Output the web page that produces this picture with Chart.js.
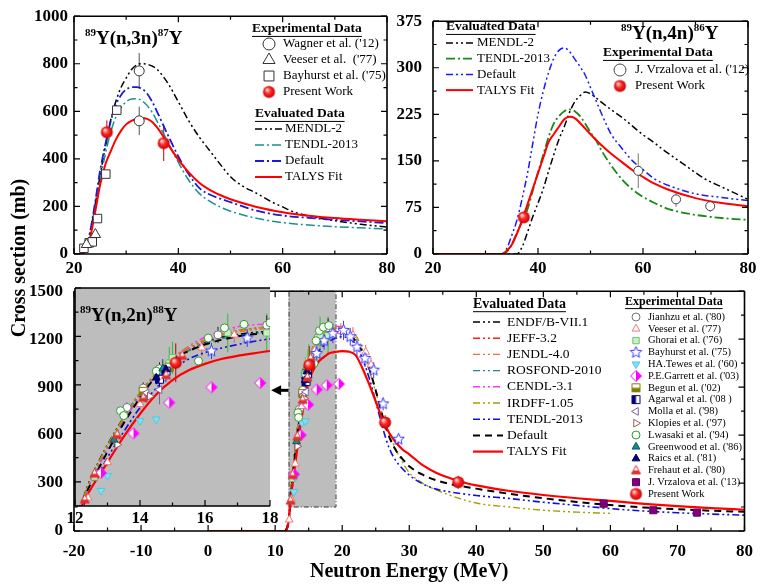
<!DOCTYPE html>
<html>
<head>
<meta charset="utf-8">
<script src="https://cdn.jsdelivr.net/npm/chart.js@4"></script>
<style>
body { margin: 0; background: #fff; }
#fig { position: relative; width: 763px; height: 584px; overflow: hidden; background: #fff; }
#fig canvas { position: absolute; }
#ytitle { position: absolute; left: -81px; top: 246px; width: 200px; height: 24px; line-height: 24px;
  text-align: center; font: bold 20px 'Liberation Serif', 'Times New Roman', serif; transform: rotate(-90deg); }
</style>
</head>
<body>
<div id="fig">
  <canvas id="n3n" width="400" height="290" style="left:0;top:0"></canvas>
  <canvas id="n4n" width="373" height="290" style="left:390px;top:0"></canvas>
  <canvas id="n2n" width="763" height="314" style="left:0;top:270px"></canvas>
  <canvas id="zoom" width="230" height="250" style="left:60px;top:278px"></canvas>
  <div id="ytitle">Cross section (mb)</div>
</div>
<script>
const FONT = "'Liberation Serif', 'Times New Roman', serif";

// axes: [min, max, tick step, label step]
const N3_X = [20, 80, 10, 20], N3_Y = [0, 1000, 100, 200];
const N4_X = [20, 80, 10, 20], N4_Y = [0, 375, 37.5, 75];
const N2_X = [-20, 80, 5, 10], N2_Y = [0, 1500, 150, 300];
const ZOOM_X = [12, 18, 1, 2], ZOOM_Y = [150, 1500, 150, 300];
const ZOOM_BOX = [12, 19, 150, 1500];
const ZOOM_ARROW = [12, 9.4, 880];

// ---- 89Y(n,3n)87Y ----
const A_MENDL_E = [20, 21.5, 22, 23, 24, 25, 26, 27, 28, 29, 30, 31, 32, 33, 34, 35, 36, 38, 40, 42, 44, 46, 48, 50, 52, 55, 58, 60, 62, 65, 70, 75, 80];
const A_MENDL = [0, 0, 10, 80, 200, 330, 450, 560, 640, 700, 740, 775, 795, 800, 798, 790, 775, 718, 640, 560, 492, 435, 378, 325, 290, 255, 218, 198, 178, 160, 140, 125, 113];
const A_EVAL_E = [20, 21.5, 22, 23, 24, 25, 26, 27, 28, 29, 30, 31, 32, 33, 34, 35, 36, 38, 40, 42, 44, 46, 48, 50, 55, 60, 65, 70, 75, 80];
const A_TENDL = [0, 0, 10, 70, 180, 310, 420, 510, 575, 615, 640, 652, 653, 645, 625, 595, 555, 470, 385, 310, 255, 222, 198, 180, 150, 132, 122, 115, 110, 105];
const A_DEF = [0, 0, 10, 85, 210, 350, 460, 555, 625, 668, 692, 701, 702, 695, 675, 640, 595, 500, 410, 335, 278, 250, 233, 218, 182, 162, 152, 144, 137, 130];
const A_TALYS_E = [20, 21.5, 22, 23, 24, 25, 26, 27, 28, 29, 30, 31, 32, 33, 34, 35, 36, 37, 38, 40, 42, 44, 46, 48, 50, 55, 60, 65, 70, 75, 80];
const A_TALYS = [0, 0, 5, 60, 170, 290, 375, 430, 480, 518, 545, 560, 568, 572, 568, 555, 530, 498, 462, 397, 343, 300, 270, 248, 230, 198, 176, 161, 151, 144, 138];
const A_WAGNER_E = [32.5, 32.5], A_WAGNER = [770, 560], A_WAGNER_ERR = [75, 60];
const A_VEESER_E = [22.4, 24.1], A_VEESER = [40, 82];
const A_BAYHURST_E = [21.9, 22.9, 23.5, 24.5, 26.1, 28.2], A_BAYHURST = [24, 47, 51, 149, 336, 605];
const A_PW_E = [26.3, 37.2], A_PW = [512, 466], A_PW_ERR = [50, 75];

// ---- 89Y(n,4n)86Y ----
const B_MENDL_E = [20, 36, 37, 38, 39, 40, 41, 42, 43, 44, 45, 46, 47, 48, 49, 50, 52, 54, 56, 58, 60, 62, 64, 66, 68, 70, 72, 75, 80];
const B_MENDL = [0, 0, 12, 35, 60, 82, 105, 133, 160, 185, 205, 228, 245, 255, 261, 258, 245, 232, 220, 206, 192, 180, 167, 155, 143, 131, 120, 108, 88];
const B_TENDL_E = [20, 33, 34, 35, 36, 37, 38, 39, 40, 41, 42, 43, 44, 45, 46, 47, 48, 49, 50, 51, 52, 54, 56, 58, 60, 62, 65, 70, 75, 80];
const B_TENDL = [0, 0, 3, 15, 35, 52, 72, 102, 132, 160, 188, 210, 222, 230, 233, 230, 222, 210, 196, 184, 168, 142, 120, 104, 92, 83, 72, 63, 58, 55];
const B_DEF_E = [20, 33, 34, 35, 36, 37, 38, 39, 40, 41, 42, 43, 44, 45, 46, 47, 48, 49, 50, 51, 52, 53, 54, 56, 58, 60, 62, 65, 70, 75, 80];
const B_DEF = [0, 0, 8, 30, 55, 90, 130, 178, 225, 262, 292, 315, 328, 332, 326, 314, 302, 288, 268, 248, 228, 209, 192, 170, 150, 136, 122, 110, 97, 91, 86];
const B_TALYS_E = [20, 33, 34, 35, 36, 37, 38, 39, 40, 41, 42, 43, 44, 45, 46, 47, 48, 49, 50, 52, 54, 56, 58, 60, 62, 65, 70, 75, 80];
const B_TALYS = [0, 0, 5, 15, 33, 55, 80, 105, 130, 155, 180, 193, 205, 217, 221, 219, 211, 202, 193, 176, 161, 148, 135, 124, 114, 103, 90, 82, 77];
const B_VRZ_E = [59.1, 66.3, 72.8], B_VRZ = [134, 88, 77], B_VRZ_ERR = [28, 12, 9];
const B_PW_E = [37.3], B_PW = [59], B_PW_ERR = [6];

// ---- 89Y(n,2n)88Y evaluated ----
const C_TALYS_E = [0, 11.6, 12, 12.3, 13, 13.5, 14, 14.5, 15, 15.5, 16, 16.5, 17, 17.5, 18, 19, 20, 21, 22, 23, 24, 25, 26, 27, 28, 29, 30, 32, 34, 36, 38, 40, 45, 50, 55, 60, 65, 70, 75, 80];
const C_TALYS = [0, 0, 60, 190, 420, 580, 720, 840, 930, 990, 1030, 1060, 1080, 1095, 1110, 1120, 1125, 1122, 1100, 1020, 920, 810, 700, 615, 555, 510, 480, 412, 365, 332, 305, 285, 250, 225, 205, 188, 170, 155, 143, 133];
const C_DEF_E = [11.6, 12, 12.3, 12.8, 13.3, 14, 14.5, 15, 15.5, 16, 17, 18, 19, 20, 21, 22, 23, 24, 25, 26, 27, 28, 29, 30, 32, 35, 40, 45, 50, 55, 60, 65, 70, 75, 80];
const C_DEF = [0, 60, 210, 410, 595, 820, 955, 1058, 1110, 1150, 1200, 1222, 1235, 1240, 1230, 1190, 1120, 1020, 880, 720, 590, 505, 450, 405, 352, 305, 265, 232, 205, 182, 162, 147, 136, 127, 120];
const C_TENDL_E = [11.6, 12, 12.5, 13, 13.5, 14, 14.5, 15, 15.5, 16, 17, 18, 19, 20, 21, 22, 23, 24, 25, 26, 27, 28, 30, 32, 34, 36, 40, 45, 50, 55, 60, 65, 70, 75, 80];
const C_TENDL = [0, 50, 260, 450, 610, 760, 880, 990, 1060, 1100, 1150, 1185, 1205, 1215, 1205, 1170, 1080, 960, 810, 650, 520, 440, 350, 295, 262, 245, 222, 203, 180, 160, 140, 125, 114, 106, 99];
const C_IRDFF_E = [11.6, 12, 12.5, 13, 14, 15, 16, 17, 18, 19, 20, 21, 22, 23, 24, 25, 26, 27, 28, 29, 30, 32, 35, 40, 45, 50, 55, 60];
const C_IRDFF = [0, 70, 320, 520, 850, 1070, 1180, 1235, 1260, 1270, 1272, 1262, 1225, 1140, 1010, 870, 730, 610, 510, 430, 365, 300, 240, 175, 150, 130, 118, 110];
const C_LIB_E = [11.6, 12, 12.5, 13, 13.5, 14, 14.5, 15, 15.5, 16, 16.5, 17, 17.5, 18, 19, 20];
const C_ENDF = [0, 80, 330, 530, 700, 850, 970, 1060, 1120, 1165, 1195, 1212, 1225, 1232, 1242, 1248];
const C_JEFF = [0, 70, 320, 520, 690, 845, 965, 1055, 1125, 1175, 1210, 1235, 1250, 1258, 1262, 1260];
const C_JENDL = [0, 75, 325, 525, 695, 848, 968, 1058, 1122, 1170, 1205, 1228, 1242, 1250, 1255, 1255];
const C_ROSFOND = [0, 65, 310, 510, 680, 835, 955, 1045, 1110, 1155, 1185, 1205, 1218, 1228, 1238, 1242];
const C_CENDL = [0, 60, 300, 500, 675, 830, 960, 1060, 1140, 1195, 1235, 1260, 1272, 1278, 1280, 1278];

// ---- 89Y(n,2n)88Y experimental ----
const X_JIANHZU_E = [13.6, 14.1, 14.6, 16.4, 17.9], X_JIANHZU = [760, 880, 1000, 1210, 1270], X_JIANHZU_ERR = [30, 35, 40, 50, 60];
const X_VEESER_E = [12.1, 12.4, 13.0, 14.0, 14.8, 15.9, 16.9, 18.3, 19.8, 21.6, 23.5, 24.3];
const X_VEESER = [70, 200, 420, 780, 970, 1130, 1210, 1240, 1250, 1225, 1120, 1040], X_VEESER_ERR = [10, 15, 25, 40, 45, 50, 50, 50, 50, 50, 45, 45];
const X_GHORAI_E = [12.6, 14.9, 15.0, 16.7, 17.9], X_GHORAI = [330, 1035, 1068, 1222, 1222], X_GHORAI_ERR = [30, 100, 100, 120, 120];
const X_BAYHURST_E = [14.7, 16.2, 17.3, 18.6, 20.2, 21.2, 22.2, 23.4, 24.7, 26.1, 28.4];
const X_BAYHURST = [950, 1110, 1190, 1235, 1255, 1215, 1150, 1080, 1006, 795, 574], X_BAYHURST_ERR = [40, 50, 55, 60, 60, 55, 55, 55, 50, 40, 30];
const X_TEWES_E = [12.8, 13.0, 14.0, 14.5], X_TEWES = [245, 337, 677, 687];
const X_GARRETT_E = [12.8, 13.8, 14.9, 16.2, 17.7, 19.5], X_GARRETT = [355, 600, 790, 885, 912, 920];
const X_BEGUN_E = [14.1, 14.9], X_BEGUN = [860, 1010], X_BEGUN_ERR = [40, 50];
const X_AGARWAL_E = [14.6, 14.8], X_AGARWAL = [935, 985], X_AGARWAL_ERR = [50, 50];
const X_MOLLA_E = [14.2, 14.6], X_MOLLA = [850, 870], X_MOLLA_ERR = [60, 90];
const X_KLOPIES_E = [13.3, 14.3], X_KLOPIES = [530, 830];
const X_LWASAKI_E = [13.4, 13.5, 14.5, 15.8, 16.1, 16.6, 17.2, 18.0], X_LWASAKI = [740, 710, 985, 1048, 1190, 1253, 1275, 1285];
const X_GREENWOOD_E = [13.2, 14.7], X_GREENWOOD = [560, 1000], X_GREENWOOD_ERR = [30, 60];
const X_RAICS_E = [14.5, 14.8], X_RAICS = [944, 996], X_RAICS_ERR = [40, 40];
const X_FREHAUT_E = [12.3, 12.6, 13.3, 14.1, 14.8, 15.3], X_FREHAUT = [190, 350, 590, 820, 960, 1080];
const X_VRZ_E = [59.0, 66.4, 72.9], X_VRZ = [171, 130, 115], X_VRZ_ERR = [22, 10, 8];
const X_PW_E = [15.1, 26.4, 37.3], X_PW = [1037, 679, 305], X_PW_ERR = [120, 45, 40];

const DASH_DDOT = [7, 3, 2, 3, 2, 3];
const DASH_DOT = [9, 3, 2, 3];
const DASH = [7, 5];

Chart.defaults.font.family = FONT;
Chart.defaults.color = '#000';

function pts(E, V) { return E.map((e, i) => ({ x: e, y: V[i] })); }
function isLabel(v, step) { const q = v / step; return Math.abs(q - Math.round(q)) < 1e-6; }

// little canvases used as point styles
function markCanvas(r, paint) {
  const c = document.createElement('canvas');
  c.width = c.height = 2 * r + 3;
  paint(c.getContext('2d'), c.width / 2, r);
  return c;
}
function shapePath(g, shape, c, r) {
  g.beginPath();
  if (shape === 'diamond') { g.moveTo(c, c - r); g.lineTo(c + r, c); g.lineTo(c, c + r); g.lineTo(c - r, c); }
  else if (shape === 'square') { g.rect(c - r * 0.8, c - r * 0.8, r * 1.6, r * 1.6); }
  else if (shape === 'triangle') { g.moveTo(c, c - r); g.lineTo(c + r * 0.9, c + r * 0.7); g.lineTo(c - r * 0.9, c + r * 0.7); }
  else if (shape === 'star') {
    for (let i = 0; i < 10; i++) {
      const a = -Math.PI / 2 + i * Math.PI / 5, q = i % 2 ? r * 0.45 : r;
      g.lineTo(c + q * Math.cos(a), c + q * Math.sin(a));
    }
  }
  g.closePath();
}
function halfMark(shape, r, col, side) {
  return markCanvas(r, (g, c) => {
    shapePath(g, shape, c, r); g.fillStyle = '#fff'; g.fill();
    if (side) {
      const box = { left: [0, 0, c, 2 * c], right: [c, 0, c, 2 * c], top: [0, 0, 2 * c, c], bottom: [0, c, 2 * c, c], all: [0, 0, 2 * c, 2 * c] }[side];
      g.save(); shapePath(g, shape, c, r); g.clip(); g.fillStyle = col; g.fillRect(box[0], box[1], box[2], box[3]); g.restore();
    }
    shapePath(g, shape, c, r); g.strokeStyle = col; g.lineWidth = 1; g.stroke();
  });
}
function ball(r) {
  return markCanvas(r, (g, c) => {
    const gr = g.createRadialGradient(c - r * 0.35, c - r * 0.4, r * 0.1, c, c, r);
    gr.addColorStop(0, '#ffd6d6'); gr.addColorStop(0.45, '#ff2a2a'); gr.addColorStop(1, '#c40000');
    g.fillStyle = gr; g.beginPath(); g.arc(c, c, r, 0, Math.PI * 2); g.fill();
  });
}

function curve(label, E, V, color, dash, width) {
  return { label, data: pts(E, V), showLine: true, borderColor: color, backgroundColor: color,
    borderDash: dash, borderWidth: width || 1.5, pointRadius: 0, cubicInterpolationMode: 'monotone' };
}
function marks(label, E, V, err, m) {
  return { label, data: pts(E, V), showLine: false, errors: err, errorColor: m.err || m.line || '#000',
    pointStyle: m.shape, pointRadius: m.r || 4, pointRotation: m.rot || 0,
    borderColor: m.line || '#000', backgroundColor: m.fill || '#fff', pointBorderWidth: 1, legendR: m.lr };
}

// ---- plugins ----
const insetBg = {
  id: 'insetBg',
  beforeDatasetsDraw(chart, args, o) {
    if (!o.color) return;
    const { ctx, chartArea: c } = chart;
    ctx.save(); ctx.fillStyle = o.color; ctx.fillRect(c.left, c.top, c.right - c.left, c.bottom - c.top); ctx.restore();
  }
};

const zoomMark = {
  id: 'zoomMark',
  beforeDatasetsDraw(chart, args, o) {
    if (!o.box) return;
    const { ctx, scales: { x, y } } = chart;
    const l = x.getPixelForValue(o.box[0]), r = x.getPixelForValue(o.box[1]);
    const b = y.getPixelForValue(o.box[2]), t = y.getPixelForValue(o.box[3]);
    ctx.save();
    ctx.fillStyle = '#bdbdbd'; ctx.fillRect(l, t, r - l, b - t);
    ctx.strokeStyle = '#333'; ctx.lineWidth = 1; ctx.setLineDash([5, 2, 1, 2]);
    ctx.strokeRect(l + 0.5, t, r - l, b - t);
    ctx.restore();
  },
  afterDatasetsDraw(chart, args, o) {
    if (!o.arrow) return;
    const { ctx, scales: { x, y } } = chart;
    const x0 = x.getPixelForValue(o.arrow[0]), x1 = x.getPixelForValue(o.arrow[1]), py = y.getPixelForValue(o.arrow[2]);
    ctx.save(); ctx.strokeStyle = '#000'; ctx.fillStyle = '#000'; ctx.lineWidth = 3;
    ctx.beginPath(); ctx.moveTo(x0, py); ctx.lineTo(x1 + 8, py); ctx.stroke();
    ctx.beginPath(); ctx.moveTo(x1, py); ctx.lineTo(x1 + 10, py - 5); ctx.lineTo(x1 + 10, py + 5); ctx.closePath(); ctx.fill();
    ctx.restore();
  }
};

const errorBars = {
  id: 'errorBars',
  beforeDatasetsDraw(chart) {
    const { ctx, chartArea: c, scales: { x, y } } = chart;
    ctx.save();
    ctx.beginPath(); ctx.rect(c.left, c.top, c.right - c.left, c.bottom - c.top); ctx.clip();
    ctx.lineWidth = 1;
    chart.data.datasets.forEach(ds => {
      if (!ds.errors) return;
      ctx.strokeStyle = ds.errorColor;
      ds.data.forEach((p, j) => {
        const e = ds.errors[j];
        if (!e) return;
        const px = x.getPixelForValue(p.x);
        ctx.beginPath(); ctx.moveTo(px, y.getPixelForValue(p.y - e)); ctx.lineTo(px, y.getPixelForValue(p.y + e)); ctx.stroke();
      });
    });
    ctx.restore();
  }
};

const frame = {
  id: 'frame',
  afterDatasetsDraw(chart, args, o) {
    if (!o.sides) return;
    const { ctx, chartArea: c, scales: { x, y } } = chart;
    const S = o.sides, T = o.ticks;
    ctx.save(); ctx.strokeStyle = '#000'; ctx.setLineDash([]);
    ctx.lineWidth = 1.2;
    ctx.beginPath();
    x.ticks.forEach(t => {
      const px = x.getPixelForValue(t.value), len = isLabel(t.value, o.xmaj) ? 6 : 3.5;
      if (T.includes('b')) { ctx.moveTo(px, c.bottom); ctx.lineTo(px, c.bottom - len); }
      if (T.includes('t')) { ctx.moveTo(px, c.top); ctx.lineTo(px, c.top + len); }
    });
    y.ticks.forEach(t => {
      const py = y.getPixelForValue(t.value), len = isLabel(t.value, o.ymaj) ? 6 : 3.5;
      if (T.includes('l')) { ctx.moveTo(c.left, py); ctx.lineTo(c.left + len, py); }
      if (T.includes('r')) { ctx.moveTo(c.right, py); ctx.lineTo(c.right - len, py); }
    });
    ctx.stroke();
    ctx.lineWidth = 1.6;
    ctx.beginPath();
    if (S.includes('t')) { ctx.moveTo(c.left, c.top); ctx.lineTo(c.right, c.top); }
    if (S.includes('b')) { ctx.moveTo(c.left, c.bottom); ctx.lineTo(c.right, c.bottom); }
    if (S.includes('l')) { ctx.moveTo(c.left, c.top); ctx.lineTo(c.left, c.bottom); }
    if (S.includes('r')) { ctx.moveTo(c.right, c.top); ctx.lineTo(c.right, c.bottom); }
    ctx.stroke();
    ctx.restore();
  }
};

const reaction = {
  id: 'reaction',
  afterDraw(chart, args, o) {
    if (!o.parts) return;
    const ctx = chart.ctx;
    ctx.save(); ctx.fillStyle = '#000'; ctx.textBaseline = 'alphabetic'; ctx.textAlign = 'left';
    let px = o.x;
    o.parts.forEach(p => {
      const sup = p[1] === 1;
      ctx.font = `bold ${sup ? o.sup : o.size}px ${FONT}`;
      ctx.fillText(p[0], px, sup ? o.y - o.size * 0.42 : o.y);
      px += ctx.measureText(p[0]).width;
    });
    ctx.restore();
  }
};

const key = {
  id: 'key',
  afterDraw(chart, args, o) {
    if (!o.groups) return;
    const ctx = chart.ctx;
    ctx.save(); ctx.textBaseline = 'middle'; ctx.textAlign = 'left';
    o.groups.forEach(g => {
      ctx.font = `bold ${g.head}px ${FONT}`; ctx.fillStyle = '#000';
      ctx.fillText(g.title, g.x, g.y);
      const w = ctx.measureText(g.title).width;
      ctx.strokeStyle = '#000'; ctx.lineWidth = 1; ctx.setLineDash([]);
      ctx.beginPath(); ctx.moveTo(g.x, g.y + g.head * 0.55); ctx.lineTo(g.x + w, g.y + g.head * 0.55); ctx.stroke();
      g.items.forEach((label, k) => {
        const ds = chart.data.datasets.find(d => d.label === label);
        const y = g.y0 + k * g.row;
        if (ds.showLine) {
          ctx.strokeStyle = ds.borderColor; ctx.lineWidth = ds.borderWidth; ctx.setLineDash(ds.borderDash || []);
          ctx.beginPath(); ctx.moveTo(g.lx[0], y); ctx.lineTo(g.lx[1], y); ctx.stroke(); ctx.setLineDash([]);
        } else {
          ctx.fillStyle = ds.backgroundColor; ctx.strokeStyle = ds.borderColor; ctx.lineWidth = 1;
          Chart.helpers.drawPoint(ctx, { pointStyle: ds.pointStyle, radius: ds.legendR || ds.pointRadius,
            rotation: ds.pointRotation, borderWidth: 1 }, g.mx, y);
        }
        ctx.fillStyle = '#000'; ctx.font = `${g.size}px ${FONT}`;
        ctx.fillText(label, g.tx, y);
      });
    });
    ctx.restore();
  }
};

function scales(ax) {
  const tickFont = { size: 17, weight: 'bold', family: FONT };
  return {
    x: {
      type: 'linear', min: ax.x[0], max: ax.x[1],
      ticks: { stepSize: ax.x[2], maxTicksLimit: 1000, autoSkip: false, maxRotation: 0, minRotation: 0,
        padding: ax.xpad, font: tickFont, color: '#000', callback: v => isLabel(v, ax.x[3]) ? v : '' },
      grid: { display: false, drawTicks: false }, border: { display: false },
      title: { display: !!ax.xtitle, text: ax.xtitle || '', color: '#000',
        font: { size: 20, weight: 'bold', family: FONT }, padding: { top: 0, bottom: 0 } },
      afterFit: s => { s.height = ax.xh; }
    },
    y: {
      type: 'linear', min: ax.y[0], max: ax.y[1],
      ticks: { display: ax.ylabels !== false, stepSize: ax.y[2], maxTicksLimit: 1000, autoSkip: false,
        padding: ax.ypad, font: tickFont, color: '#000', callback: v => isLabel(v, ax.y[3]) ? v : '' },
      grid: { display: false, drawTicks: false }, border: { display: false },
      afterFit: s => { s.width = ax.yw; }
    }
  };
}

function draw(id, datasets, ax, extra) {
  return new Chart(document.getElementById(id), {
    type: 'scatter',
    data: { datasets },
    options: {
      responsive: false, animation: false, events: [],
      layout: { padding: ax.pad },
      scales: scales(ax),
      plugins: Object.assign({ legend: { display: false }, tooltip: { enabled: false } }, extra)
    },
    plugins: [insetBg, zoomMark, errorBars, frame, reaction, key]
  });
}

// ---------- top left: (n,3n) ----------
draw('n3n', [
  marks('Present Work', A_PW_E, A_PW, A_PW_ERR, { shape: ball(6), err: '#c00000' }),
  marks("Wagner et al. ('12)", A_WAGNER_E, A_WAGNER, A_WAGNER_ERR, { shape: 'circle', r: 5, line: '#333', err: '#555', lr: 6 }),
  marks("Veeser et al.  ('77)", A_VEESER_E, A_VEESER, null, { shape: 'triangle', r: 6, line: '#333', lr: 7 }),
  marks("Bayhurst et al. ('75)", A_BAYHURST_E, A_BAYHURST, null, { shape: 'rect', r: 6, line: '#333', lr: 7 }),
  curve('TALYS Fit', A_TALYS_E, A_TALYS, '#ff0000', [], 2),
  curve('Default', A_EVAL_E, A_DEF, '#1a1ad0', DASH_DOT, 1.8),
  curve('TENDL-2013', A_EVAL_E, A_TENDL, '#1a9090', DASH_DOT, 1.5),
  curve('MENDL-2', A_MENDL_E, A_MENDL, '#000', DASH_DDOT, 1.5)
], { x: N3_X, y: N3_Y, xpad: 4, ypad: 6, xh: 36, yw: 74, pad: { left: 0, right: 13, top: 13, bottom: 0 } }, {
  frame: { sides: 'tblr', ticks: 'tblr', xmaj: 20, ymaj: 200 },
  reaction: { x: 85, y: 44, size: 19, sup: 11, parts: [['89', 1], ['Y(n,3n)'], ['87', 1], ['Y']] },
  key: { groups: [
    { title: 'Experimental Data', head: 13.5, x: 252, y: 29, y0: 44, row: 16, mx: 269, tx: 283, size: 13,
      items: ["Wagner et al. ('12)", "Veeser et al.  ('77)", "Bayhurst et al. ('75)", 'Present Work'] },
    { title: 'Evaluated Data', head: 13.5, x: 255, y: 114, y0: 129, row: 16, lx: [255, 282], tx: 285, size: 13,
      items: ['MENDL-2', 'TENDL-2013', 'Default', 'TALYS Fit'] }
  ] }
});

// ---------- top right: (n,4n) ----------
draw('n4n', [
  marks('Present Work', B_PW_E, B_PW, B_PW_ERR, { shape: ball(6), err: '#c00000' }),
  marks("J. Vrzalova et al. ('12)", B_VRZ_E, B_VRZ, B_VRZ_ERR, { shape: 'circle', r: 4.5, line: '#444', err: '#777', lr: 6 }),
  curve('TALYS Fit', B_TALYS_E, B_TALYS, '#ff0000', [], 2),
  curve('Default', B_DEF_E, B_DEF, '#1a1aff', DASH_DDOT, 1.5),
  curve('TENDL-2013', B_TENDL_E, B_TENDL, '#178a17', DASH_DOT, 1.8),
  curve('MENDL-2', B_MENDL_E, B_MENDL, '#000', DASH_DDOT, 1.5)
], { x: N4_X, y: N4_Y, xpad: 4, ypad: 11, xh: 36, yw: 43, pad: { left: 0, right: 15, top: 14, bottom: 0 } }, {
  frame: { sides: 'tblr', ticks: 'tblr', xmaj: 20, ymaj: 75 },
  reaction: { x: 231, y: 39, size: 19, sup: 11, parts: [['89', 1], ['Y(n,4n)'], ['86', 1], ['Y']] },
  key: { groups: [
    { title: 'Evaluated Data', head: 13.5, x: 56, y: 27, y0: 43, row: 15.7, lx: [56, 83], tx: 87, size: 13,
      items: ['MENDL-2', 'TENDL-2013', 'Default', 'TALYS Fit'] },
    { title: 'Experimental Data', head: 13.5, x: 213, y: 53, y0: 70, row: 16, mx: 230, tx: 245, size: 13,
      items: ["J. Vrzalova et al. ('12)", 'Present Work'] }
  ] }
});

// ---------- bottom: (n,2n) ----------
function n2nSets() {
  return [
    marks('Present Work', X_PW_E, X_PW, X_PW_ERR, { shape: ball(6), err: '#c00000' }),
    marks("J. Vrzalova et al. ('13)", X_VRZ_E, X_VRZ, X_VRZ_ERR, { shape: 'rect', r: 5, line: '#600060', fill: '#800080' }),
    marks("Frehaut et al. ('80)", X_FREHAUT_E, X_FREHAUT, null, { shape: halfMark('triangle', 5, '#e03030', 'bottom') }),
    marks("Raics et al. ('81)", X_RAICS_E, X_RAICS, X_RAICS_ERR, { shape: 'triangle', r: 4.5, line: '#000060', fill: '#000080' }),
    marks("Greenwood et al. ('86)", X_GREENWOOD_E, X_GREENWOOD, X_GREENWOOD_ERR, { shape: 'triangle', r: 4.5, line: '#005a5a', fill: '#1a8a8a' }),
    marks("Lwasaki et al. ('94)", X_LWASAKI_E, X_LWASAKI, null, { shape: 'circle', r: 4, line: '#3a9a3a', fill: '#f4fff4' }),
    marks("Klopies et al. ('97)", X_KLOPIES_E, X_KLOPIES, null, { shape: 'triangle', r: 4.5, rot: 90, line: '#a05a5a' }),
    marks("Molla et al. ('98)", X_MOLLA_E, X_MOLLA, X_MOLLA_ERR, { shape: 'triangle', r: 4.5, rot: -90, line: '#8060a0' }),
    marks("Agarwal et al. ('08 )", X_AGARWAL_E, X_AGARWAL, X_AGARWAL_ERR, { shape: halfMark('square', 5, '#000080', 'left'), line: '#000080' }),
    marks("Begun et al. ('02)", X_BEGUN_E, X_BEGUN, X_BEGUN_ERR, { shape: halfMark('square', 5, '#808000', 'bottom'), line: '#808000' }),
    marks("P.E.Garrett et al. ('03)", X_GARRETT_E, X_GARRETT, null, { shape: halfMark('diamond', 5.5, '#ff00ff', 'right') }),
    marks("HA.Tewes et al. ('60)", X_TEWES_E, X_TEWES, null, { shape: 'triangle', r: 4.5, rot: 180, line: '#50c8e0', fill: '#80e0f0' }),
    marks("Bayhurst et al. ('75)", X_BAYHURST_E, X_BAYHURST, X_BAYHURST_ERR, { shape: halfMark('star', 6, '#3a3aff'), line: '#3a3aff' }),
    marks("Ghorai et al. ('76)", X_GHORAI_E, X_GHORAI, X_GHORAI_ERR, { shape: 'rect', r: 4.5, line: '#70c070', fill: '#c8f0c8', err: '#30c030' }),
    marks("Veeser et al. ('77)", X_VEESER_E, X_VEESER, X_VEESER_ERR, { shape: 'triangle', r: 4.5, line: '#f07878', err: '#e06060' }),
    marks("Jianhzu et al. ('80)", X_JIANHZU_E, X_JIANHZU, X_JIANHZU_ERR, { shape: 'circle', r: 4, line: '#777', err: '#222' }),
    curve('TALYS Fit', C_TALYS_E, C_TALYS, '#ff0000', [], 2.2),
    curve('Default', C_DEF_E, C_DEF, '#000', DASH, 2),
    curve('TENDL-2013', C_TENDL_E, C_TENDL, '#1010e0', DASH_DDOT, 1.6),
    curve('IRDFF-1.05', C_IRDFF_E, C_IRDFF, '#a0a000', DASH_DDOT, 1.4),
    curve('CENDL-3.1', C_LIB_E, C_CENDL, '#ff33ff', DASH_DDOT, 1.4),
    curve('ROSFOND-2010', C_LIB_E, C_ROSFOND, '#1a8a8a', DASH_DDOT, 1.4),
    curve('JENDL-4.0', C_LIB_E, C_JENDL, '#f06a4a', DASH_DDOT, 1.4),
    curve('JEFF-3.2', C_LIB_E, C_JEFF, '#ff1a1a', DASH_DDOT, 1.4),
    curve('ENDF/B-VII.1', C_LIB_E, C_ENDF, '#000', DASH_DDOT, 1.4)
  ];
}

draw('n2n', n2nSets(),
  { x: N2_X, y: N2_Y, xpad: 10, ypad: 11, xh: 53, yw: 74, xtitle: 'Neutron Energy (MeV)',
    pad: { left: 0, right: 15, top: 18, bottom: 0 } }, {
  frame: { sides: 'tblr', ticks: 'tblr', xmaj: 10, ymaj: 300 },
  zoomMark: { box: ZOOM_BOX, arrow: ZOOM_ARROW },
  key: { groups: [
    { title: 'Evaluated Data', head: 14, x: 473, y: 34, y0: 52, row: 16.2, lx: [473, 503], tx: 507, size: 13.5,
      items: ['ENDF/B-VII.1', 'JEFF-3.2', 'JENDL-4.0', 'ROSFOND-2010', 'CENDL-3.1', 'IRDFF-1.05', 'TENDL-2013', 'Default', 'TALYS Fit'] },
    { title: 'Experimental Data', head: 12, x: 625, y: 32, y0: 47, row: 11.8, mx: 636, tx: 648, size: 10.5,
      items: ["Jianhzu et al. ('80)", "Veeser et al. ('77)", "Ghorai et al. ('76)", "Bayhurst et al. ('75)",
        "HA.Tewes et al. ('60)", "P.E.Garrett et al. ('03)", "Begun et al. ('02)", "Agarwal et al. ('08 )",
        "Molla et al. ('98)", "Klopies et al. ('97)", "Lwasaki et al. ('94)", "Greenwood et al. ('86)",
        "Raics et al. ('81)", "Frehaut et al. ('80)", "J. Vrzalova et al. ('13)", 'Present Work'] }
  ] }
});

// ---------- inset: zoom on 12-18 MeV ----------
draw('zoom', n2nSets(),
  { x: ZOOM_X, y: ZOOM_Y, xpad: 2, ypad: 0, xh: 22, yw: 0, ylabels: false,
    pad: { left: 15, right: 20, top: 10, bottom: 0 } }, {
  insetBg: { color: '#bdbdbd' },
  frame: { sides: 'tbl', ticks: 'bl', xmaj: 2, ymaj: 300 },
  reaction: { x: 20, y: 43, size: 19, sup: 11, parts: [['89', 1], ['Y(n,2n)'], ['88', 1], ['Y']] }
});
</script>
</body>
</html>
